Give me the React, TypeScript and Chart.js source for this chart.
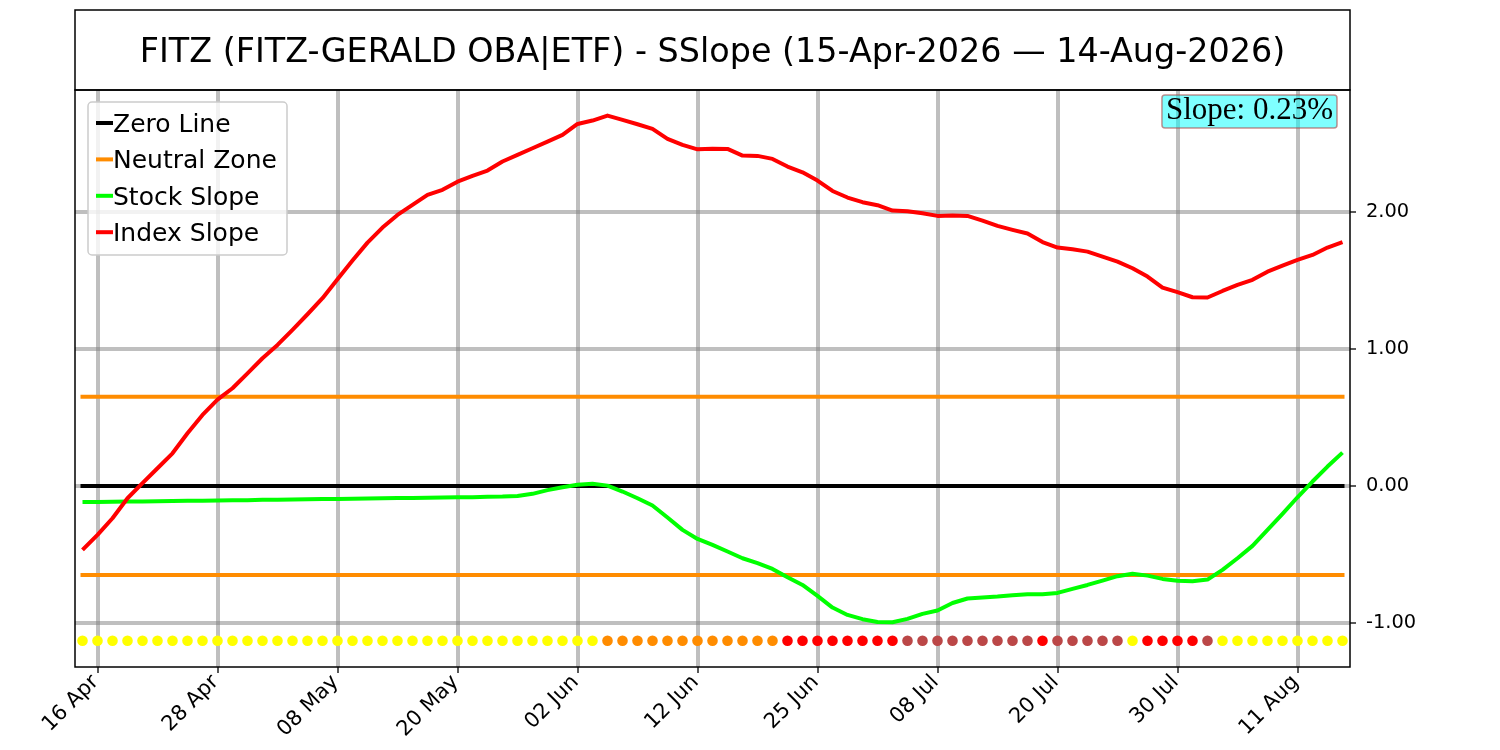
'use client'

import { useEffect, useRef } from 'react'
import { Chart, registerables } from 'chart.js'

Chart.register(...registerables)

// trading days 15 Apr 2026 - 14 Aug 2026 (US holidays skipped)
const DATES = [
  '15 Apr', '16 Apr', '17 Apr', '20 Apr', '21 Apr', '22 Apr', '23 Apr', '24 Apr', '27 Apr', '28 Apr',
  '29 Apr', '30 Apr', '01 May', '04 May', '05 May', '06 May', '07 May', '08 May', '11 May', '12 May',
  '13 May', '14 May', '15 May', '18 May', '19 May', '20 May', '21 May', '22 May', '26 May', '27 May',
  '28 May', '29 May', '01 Jun', '02 Jun', '03 Jun', '04 Jun', '05 Jun', '08 Jun', '09 Jun', '10 Jun',
  '11 Jun', '12 Jun', '15 Jun', '16 Jun', '17 Jun', '18 Jun', '22 Jun', '23 Jun', '24 Jun', '25 Jun',
  '26 Jun', '29 Jun', '30 Jun', '01 Jul', '02 Jul', '06 Jul', '07 Jul', '08 Jul', '09 Jul', '10 Jul',
  '13 Jul', '14 Jul', '15 Jul', '16 Jul', '17 Jul', '20 Jul', '21 Jul', '22 Jul', '23 Jul', '24 Jul',
  '27 Jul', '28 Jul', '29 Jul', '30 Jul', '31 Jul', '03 Aug', '04 Aug', '05 Aug', '06 Aug', '07 Aug',
  '10 Aug', '11 Aug', '12 Aug', '13 Aug', '14 Aug',
]

const TICK_DATES = ['16 Apr', '28 Apr', '08 May', '20 May', '02 Jun', '12 Jun', '25 Jun', '08 Jul', '20 Jul', '30 Jul', '11 Aug']

const STOCK_SLOPE = [
  -0.118, -0.117, -0.115, -0.114, -0.113, -0.112, -0.110, -0.109, -0.108, -0.106,
  -0.105, -0.104, -0.102, -0.101, -0.099, -0.098, -0.096, -0.095, -0.093, -0.092,
  -0.091, -0.089, -0.088, -0.086, -0.085, -0.083, -0.082, -0.080, -0.078, -0.073,
  -0.058, -0.031, -0.010, 0.008, 0.015, 0.002, -0.041, -0.090, -0.143, -0.231,
  -0.321, -0.387, -0.431, -0.479, -0.528, -0.564, -0.606, -0.667, -0.723, -0.803,
  -0.888, -0.942, -0.973, -0.993, -0.995, -0.971, -0.934, -0.910, -0.855, -0.822,
  -0.815, -0.808, -0.798, -0.791, -0.791, -0.781, -0.752, -0.723, -0.691, -0.659,
  -0.642, -0.655, -0.679, -0.693, -0.696, -0.684, -0.613, -0.528, -0.438, -0.321,
  -0.204, -0.083, 0.032, 0.141, 0.243,
]

const INDEX_SLOPE = [
  -0.467, -0.358, -0.236, -0.090, 0.020, 0.129, 0.238, 0.384, 0.518, 0.630,
  0.713, 0.822, 0.932, 1.029, 1.139, 1.253, 1.370, 1.509, 1.645, 1.776,
  1.886, 1.978, 2.051, 2.124, 2.161, 2.221, 2.263, 2.302, 2.368, 2.416,
  2.465, 2.513, 2.562, 2.642, 2.667, 2.703, 2.672, 2.640, 2.606, 2.533,
  2.489, 2.457, 2.462, 2.460, 2.411, 2.409, 2.387, 2.331, 2.289, 2.229,
  2.153, 2.105, 2.071, 2.049, 2.010, 2.005, 1.990, 1.971, 1.973, 1.971,
  1.937, 1.898, 1.869, 1.842, 1.780, 1.740, 1.727, 1.710, 1.674, 1.637,
  1.589, 1.528, 1.448, 1.414, 1.377, 1.375, 1.423, 1.467, 1.504, 1.564,
  1.608, 1.650, 1.686, 1.740, 1.779,
]

// Y yellow, O orange, R red, B brown
const SIGNALS = [
  'Y', 'Y', 'Y', 'Y', 'Y', 'Y', 'Y', 'Y', 'Y', 'Y',
  'Y', 'Y', 'Y', 'Y', 'Y', 'Y', 'Y', 'Y', 'Y', 'Y',
  'Y', 'Y', 'Y', 'Y', 'Y', 'Y', 'Y', 'Y', 'Y', 'Y',
  'Y', 'Y', 'Y', 'Y', 'Y', 'O', 'O', 'O', 'O', 'O',
  'O', 'O', 'O', 'O', 'O', 'O', 'O', 'R', 'R', 'R',
  'R', 'R', 'R', 'R', 'R', 'B', 'B', 'B', 'B', 'B',
  'B', 'B', 'B', 'B', 'R', 'B', 'B', 'B', 'B', 'B',
  'Y', 'R', 'R', 'R', 'R', 'B', 'Y', 'Y', 'Y', 'Y',
  'Y', 'Y', 'Y', 'Y', 'Y',
]

const SIGNAL_COLORS: Record<string, string> = {
  Y: '#ffff00',
  O: '#ff8c00',
  R: '#ff0000',
  B: '#bb4747',
}

const Y_TICKS = [-1, 0, 1, 2]
const ZERO_LEVEL = 0
const NEUTRAL_LEVEL = 0.65
const SIGNAL_LEVEL = -1.13
const SLOPE_LABEL = 'Slope: 0.23%'
const TITLE = 'FITZ (FITZ-GERALD OBA|ETF) - SSlope (15-Apr-2026 \u2014 14-Aug-2026)'

const SANS = '"DejaVu Sans", sans-serif'
const GRID = 'rgba(128,128,128,0.5)'

function flat(level: number) {
  return [
    { x: DATES[0], y: level },
    { x: DATES[DATES.length - 1], y: level },
  ]
}

function roundRect(ctx: CanvasRenderingContext2D, x: number, y: number, w: number, h: number, r: number) {
  ctx.beginPath()
  ctx.moveTo(x + r, y)
  ctx.arcTo(x + w, y, x + w, y + h, r)
  ctx.arcTo(x + w, y + h, x, y + h, r)
  ctx.arcTo(x, y + h, x, y, r)
  ctx.arcTo(x, y, x + w, y, r)
  ctx.closePath()
}

const decorations = {
  id: 'decorations',
  afterDraw(chart: any) {
    const { ctx, chartArea: a } = chart
    ctx.save()

    // axes frame + title box
    ctx.strokeStyle = '#000'
    ctx.lineWidth = 1.5
    ctx.strokeRect(a.left, a.top, a.right - a.left, a.bottom - a.top)
    ctx.strokeRect(a.left, 10, a.right - a.left, a.top - 10)
    ctx.fillStyle = '#000'
    ctx.font = `33.4px ${SANS}`
    ctx.textAlign = 'center'
    ctx.textBaseline = 'alphabetic'
    ctx.fillText(TITLE, (a.left + a.right) / 2, 62)

    // legend
    const items = chart.data.datasets.filter((d: any) => d.label && !d.label.startsWith('_'))
    roundRect(ctx, a.left + 13, a.top + 12, 199, 153, 4)
    ctx.fillStyle = 'rgba(255,255,255,0.8)'
    ctx.fill()
    ctx.strokeStyle = '#cccccc'
    ctx.lineWidth = 1.5
    ctx.stroke()
    ctx.font = `25px ${SANS}`
    ctx.textAlign = 'left'
    items.forEach((d: any, i: number) => {
      const y = a.top + 33 + i * 36.4
      ctx.strokeStyle = d.borderColor
      ctx.lineWidth = 4
      ctx.beginPath()
      ctx.moveTo(a.left + 21, y)
      ctx.lineTo(a.left + 38, y)
      ctx.stroke()
      ctx.fillStyle = '#000'
      ctx.fillText(d.label, a.left + 38, y + 8.8)
    })

    // slope annotation
    ctx.font = '31px "Liberation Serif", serif'
    const tw = ctx.measureText(SLOPE_LABEL).width
    const bw = tw + 8
    const bx = a.right - 13 - bw
    roundRect(ctx, bx, a.top + 5, bw, 33, 3)
    ctx.fillStyle = 'rgba(0,255,255,0.5)'
    ctx.fill()
    ctx.strokeStyle = 'rgba(170,70,70,0.6)'
    ctx.lineWidth = 1.5
    ctx.stroke()
    ctx.fillStyle = '#000'
    ctx.fillText(SLOPE_LABEL, bx + 4, a.top + 28.5)

    ctx.restore()
  },
}

export default function App() {
  const canvasRef = useRef<HTMLCanvasElement>(null)
  const chartRef = useRef<Chart | null>(null)

  useEffect(() => {
    if (!canvasRef.current) return

    chartRef.current?.destroy()

    chartRef.current = new Chart(canvasRef.current, {
      type: 'line',
      data: {
        labels: DATES,
        datasets: [
          {
            label: 'Zero Line',
            data: flat(ZERO_LEVEL) as any,
            borderColor: '#000000',
            borderWidth: 4,
            borderCapStyle: 'square',
            pointRadius: 0,
            order: 6,
          },
          {
            label: 'Neutral Zone',
            data: flat(NEUTRAL_LEVEL) as any,
            borderColor: '#ff8c00',
            borderWidth: 4,
            borderCapStyle: 'square',
            pointRadius: 0,
            order: 5,
          },
          {
            label: '_neutral_lower',
            data: flat(-NEUTRAL_LEVEL) as any,
            borderColor: '#ff8c00',
            borderWidth: 4,
            borderCapStyle: 'square',
            pointRadius: 0,
            order: 5,
          },
          {
            label: 'Stock Slope',
            data: STOCK_SLOPE,
            borderColor: '#00ff00',
            borderWidth: 4,
            borderJoinStyle: 'round',
            pointRadius: 0,
            order: 3,
          },
          {
            label: 'Index Slope',
            data: INDEX_SLOPE,
            borderColor: '#ff0000',
            borderWidth: 4,
            borderJoinStyle: 'round',
            pointRadius: 0,
            order: 2,
          },
          {
            label: '_signals',
            data: DATES.map(() => SIGNAL_LEVEL),
            showLine: false,
            pointRadius: 5.3,
            pointBorderWidth: 0,
            pointBackgroundColor: SIGNALS.map(s => SIGNAL_COLORS[s]),
            borderColor: 'transparent',
            order: 1,
          },
        ],
      },
      options: {
        animation: false,
        responsive: false,
        layout: { padding: { left: 75, top: 90, right: 0, bottom: 0 } },
        plugins: {
          legend: { display: false },
          tooltip: { enabled: false },
        },
        scales: {
          x: {
            type: 'category',
            offset: true,
            grid: { color: GRID, lineWidth: 4, offset: false, tickColor: '#222', tickWidth: 1.5, tickLength: 6 },
            border: { display: false },
            ticks: {
              autoSkip: false,
              minRotation: 45,
              maxRotation: 45,
              padding: -3,
              labelOffset: -2,
              color: '#000',
              font: { family: SANS, size: 21 },
              callback: (_v: any, index: number) => (TICK_DATES.includes(DATES[index]) ? DATES[index] : null),
            },
            afterFit: (scale: any) => { scale.height = 83 },
          },
          y: {
            position: 'right',
            min: -1.322,
            max: 2.89,
            grid: { color: GRID, lineWidth: 4, tickColor: '#222', tickWidth: 1.5, tickLength: 6 },
            border: { display: false },
            afterBuildTicks: (scale: any) => { scale.ticks = Y_TICKS.map(v => ({ value: v })) },
            ticks: {
              padding: 10,
              color: '#000',
              font: { family: SANS, size: 19.4 },
              callback: (v: any) => Number(v).toFixed(2),
            },
            afterFit: (scale: any) => { scale.width = 150 },
          },
        },
      },
      plugins: [decorations],
    })

    return () => { chartRef.current?.destroy() }
  }, [])

  return (
    <canvas
      ref={canvasRef}
      width={1500}
      height={750}
      style={{ position: 'absolute', left: 0, top: 0, width: 1500, height: 750, background: '#fff' }}
    />
  )
}
